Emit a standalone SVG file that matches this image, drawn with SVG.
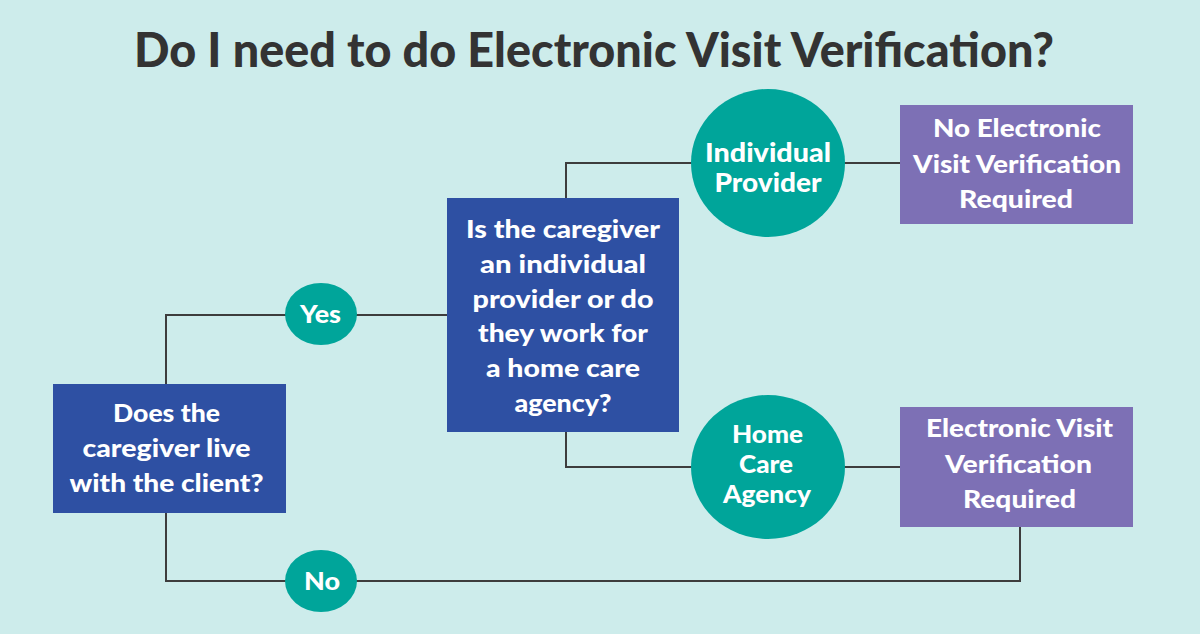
<svg xmlns="http://www.w3.org/2000/svg" width="1200" height="634" viewBox="0 0 1200 634">
<style>
.bg{fill:#cdeceb}
.title{font-family:Lato,"Open Sans","Liberation Sans",sans-serif;font-weight:900;font-size:47px;fill:#333333;text-anchor:middle}
.blue{fill:#2e50a3}
.purple{fill:#7d70b5}
.teal{fill:#00a59a}
.t{font-family:Lato,"Open Sans","Liberation Sans",sans-serif;font-weight:900;font-size:25px;fill:#ffffff;text-anchor:middle}
.tc{font-size:27px}
.conn{fill:none;stroke:#3d3d3d;stroke-width:2}
</style>
<rect class="bg" x="0" y="0" width="1200" height="634"/>
<text class="title" x="594" y="67" textLength="920" lengthAdjust="spacingAndGlyphs">Do I need to do Electronic Visit Verification?</text>
<g id="connectors">
<path class="conn" d="M166,384 V315 H447"/>
<path class="conn" d="M566,198 V163 H900"/>
<path class="conn" d="M566,432 V467 H900"/>
<path class="conn" d="M166,513 V581 H1020 V527"/>
</g>
<g id="q1">
<rect class="blue" x="53" y="384" width="233" height="129"/>
<text class="t" x="166.5" y="422" textLength="107" lengthAdjust="spacingAndGlyphs">Does the</text>
<text class="t" x="166.5" y="457" textLength="168" lengthAdjust="spacingAndGlyphs">caregiver live</text>
<text class="t" x="166.5" y="492" textLength="194" lengthAdjust="spacingAndGlyphs">with the client?</text>
</g>
<g id="yes">
<ellipse class="teal" cx="321" cy="314" rx="36" ry="31"/>
<text class="t" x="320.5" y="323" textLength="41" lengthAdjust="spacingAndGlyphs">Yes</text>
</g>
<g id="no">
<ellipse class="teal" cx="321" cy="581" rx="36" ry="31"/>
<text class="t" x="322" y="590" textLength="36" lengthAdjust="spacingAndGlyphs">No</text>
</g>
<g id="q2">
<rect class="blue" x="447" y="198" width="232" height="234"/>
<text class="t" x="563" y="238" textLength="194" lengthAdjust="spacingAndGlyphs">Is the caregiver</text>
<text class="t" x="563" y="273" textLength="166" lengthAdjust="spacingAndGlyphs">an individual</text>
<text class="t" x="563" y="308" textLength="181" lengthAdjust="spacingAndGlyphs">provider or do</text>
<text class="t" x="563" y="342" textLength="170" lengthAdjust="spacingAndGlyphs">they work for</text>
<text class="t" x="563" y="377" textLength="154" lengthAdjust="spacingAndGlyphs">a home care</text>
<text class="t" x="563" y="412" textLength="97" lengthAdjust="spacingAndGlyphs">agency?</text>
</g>
<g id="individual">
<ellipse class="teal" cx="768" cy="163" rx="77" ry="74"/>
<text class="t tc" x="768" y="162" textLength="126" lengthAdjust="spacingAndGlyphs">Individual</text>
<text class="t tc" x="768" y="192" textLength="107" lengthAdjust="spacingAndGlyphs">Provider</text>
</g>
<g id="agency">
<ellipse class="teal" cx="768" cy="467" rx="77" ry="72"/>
<text class="t" x="767.5" y="443" textLength="71" lengthAdjust="spacingAndGlyphs">Home</text>
<text class="t" x="766" y="473" textLength="54" lengthAdjust="spacingAndGlyphs">Care</text>
<text class="t" x="767" y="503" textLength="88" lengthAdjust="spacingAndGlyphs">Agency</text>
</g>
<g id="noevv">
<rect class="purple" x="900" y="105" width="233" height="119"/>
<text class="t" x="1017" y="137" textLength="168" lengthAdjust="spacingAndGlyphs">No Electronic</text>
<text class="t" x="1017" y="173" textLength="208" lengthAdjust="spacingAndGlyphs">Visit Verification</text>
<text class="t" x="1016" y="208" textLength="114" lengthAdjust="spacingAndGlyphs">Required</text>
</g>
<g id="evv">
<rect class="purple" x="900" y="407" width="233" height="120"/>
<text class="t" x="1019.5" y="437" textLength="187" lengthAdjust="spacingAndGlyphs">Electronic Visit</text>
<text class="t" x="1018.5" y="473" textLength="147" lengthAdjust="spacingAndGlyphs">Verification</text>
<text class="t" x="1019.5" y="508" textLength="113" lengthAdjust="spacingAndGlyphs">Required</text>
</g>
</svg>
